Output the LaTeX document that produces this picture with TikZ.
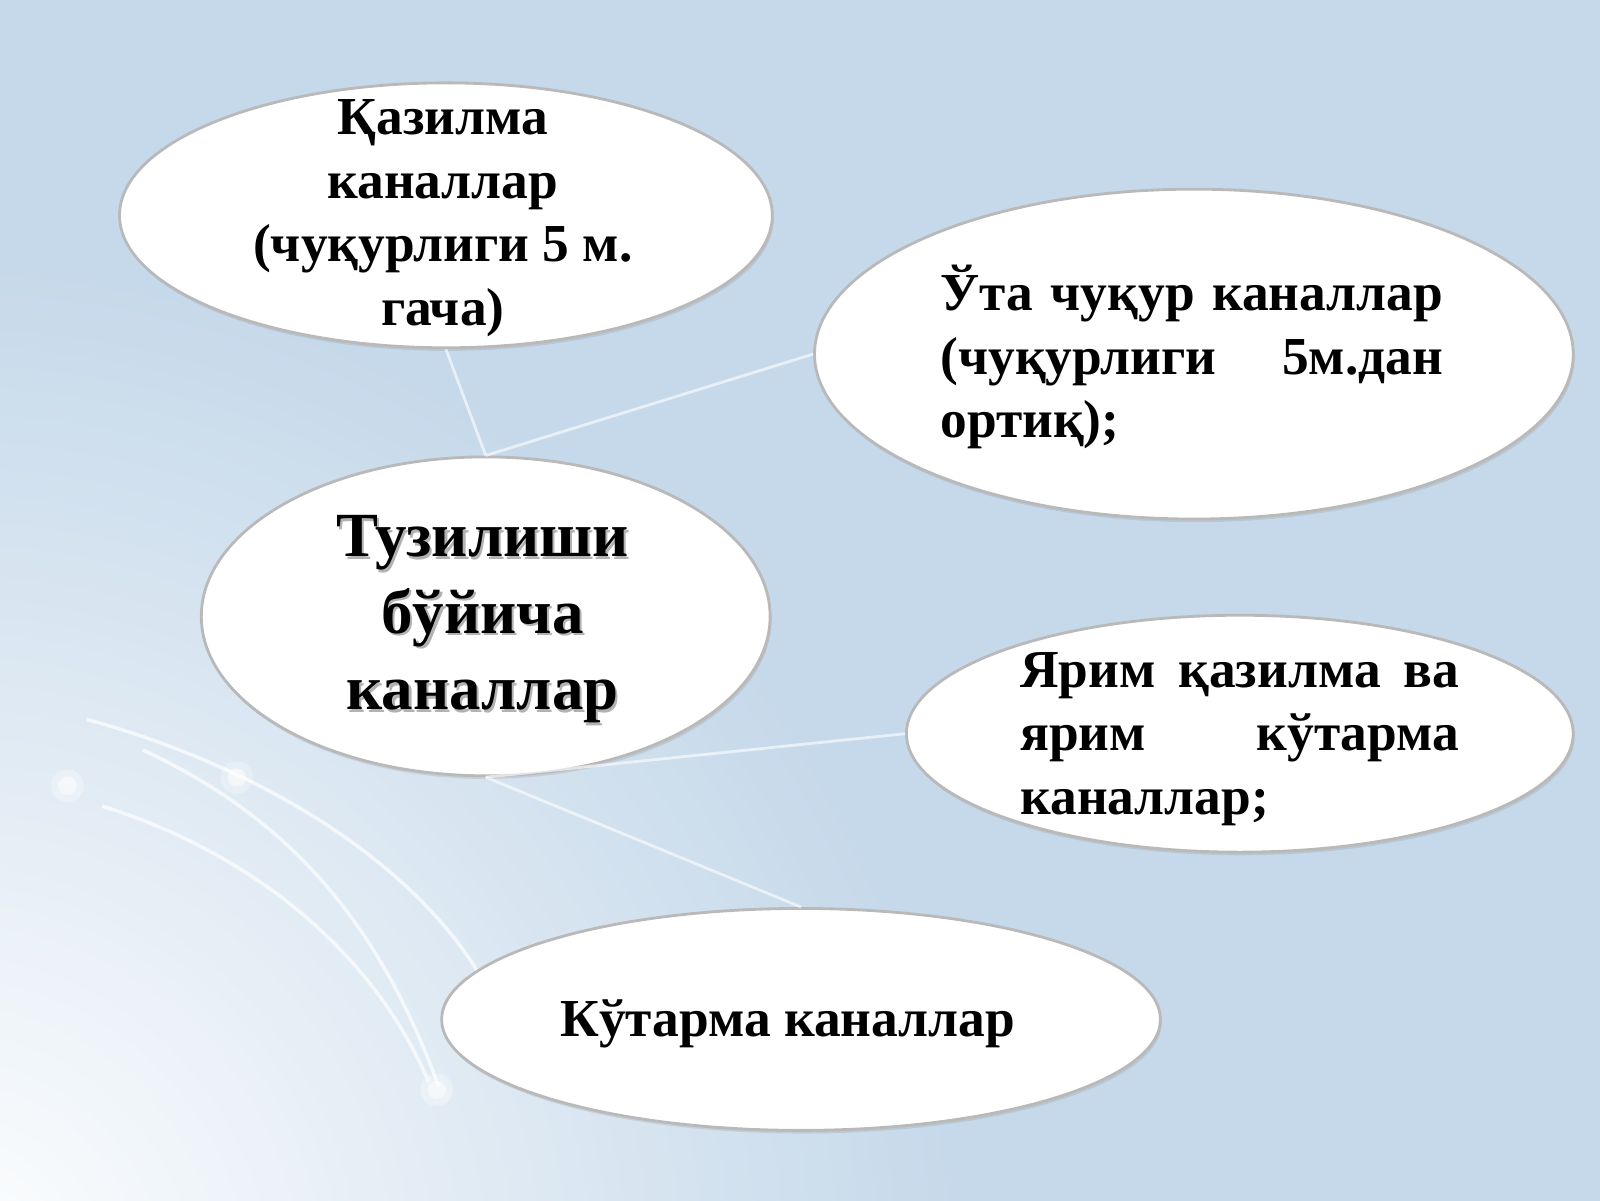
\documentclass[tikz,border=0pt]{standalone}
\usepackage{fontspec}
\setmainfont{Liberation Serif}
\usetikzlibrary{shapes.geometric, shadows}
\definecolor{bgblue}{RGB}{198,217,234}
\tikzstyle{oval} = [ellipse, fill=white, draw=gray!55, line width=0.8pt, inner sep=0pt, drop shadow={opacity=0.2, shadow xshift=0.4pt, shadow yshift=-0.9pt}]
\tikzstyle{lbl} = [font=\bfseries\fontsize{15.2}{18.1}\selectfont, align=left, inner sep=0pt]
\tikzstyle{biglbl} = [font=\bfseries\fontsize{17.9}{21.8}\selectfont, align=center, inner sep=0pt]
\tikzstyle{link} = [draw=white, opacity=0.6, line width=0.8pt]
\tikzstyle{streak} = [draw=white, opacity=0.7, line width=1pt]
\newcommand{\jline}[2]{\makebox[#1][s]{#2}}

\begin{document}
\begin{tikzpicture}[x=0.010204cm, y=-0.010204cm]
\useasboundingbox (0,0) rectangle (1568,1176);
\fill[bgblue] (-20,-20) rectangle (1590,1200);
\begin{scope}
  \clip (-20,-20) rectangle (1590,1200);
  \shade[inner color=white, outer color=bgblue] (-60,1260) circle (1000);
\end{scope}

\draw[streak] (85,705) .. controls (250,750) and (400,840) .. (470,955);
\draw[streak] (140,735) .. controls (280,800) and (370,900) .. (430,1065);
\draw[streak] (100,790) .. controls (230,830) and (360,920) .. (420,1060);
\foreach \p in {(66,770), (232,762), (428,1068)} {
  \fill[white, opacity=0.3] \p circle (16);
  \fill[white, opacity=0.5] \p circle (9);
}

\node (kaz) [oval, minimum width=6.53cm, minimum height=2.65cm] at (437,211) {};
\node (uta) [oval, minimum width=7.59cm, minimum height=3.3cm] at (1170,347) {};
\node (cen) [oval, minimum width=5.69cm, minimum height=3.19cm] at (476,604) {};
\node (yarim) [oval, minimum width=6.67cm, minimum height=2.37cm] at (1215,719) {};
\node (kut) [oval, minimum width=7.19cm, minimum height=2.22cm] at (785,999) {};

\node (kaz-t) [lbl, align=center] at (434,214) {Қазилма\\каналлар\\(чуқурлиги 5 м.\\гача)};
\node (uta-t) [lbl] at (1168,350) {\jline{5.03cm}{Ўта чуқур каналлар}\\\jline{5.03cm}{(чуқурлиги 5м.дан}\\ортиқ);};
\node (cen-s) [biglbl, text=black!30] at ([xshift=0.6pt, yshift=-0.7pt] 473,607) {Тузилиши\\бўйича\\каналлар};
\node (cen-t) [biglbl] at (473,607) {Тузилиши\\бўйича\\каналлар};
\node (yarim-t) [lbl] at (1215,724) {\jline{4.39cm}{Ярим қазилма ва}\\\jline{4.39cm}{ярим кўтарма}\\каналлар;};
\node (kut-t) [lbl] at (772,1003) {Кўтарма каналлар};

\draw[link] (cen.north) -- (kaz.south);
\draw[link] (cen.north) -- (uta.west);
\draw[link] (cen.south) -- (yarim.west);
\draw[link] (cen.south) -- (kut.north);
\end{tikzpicture}
\end{document}
